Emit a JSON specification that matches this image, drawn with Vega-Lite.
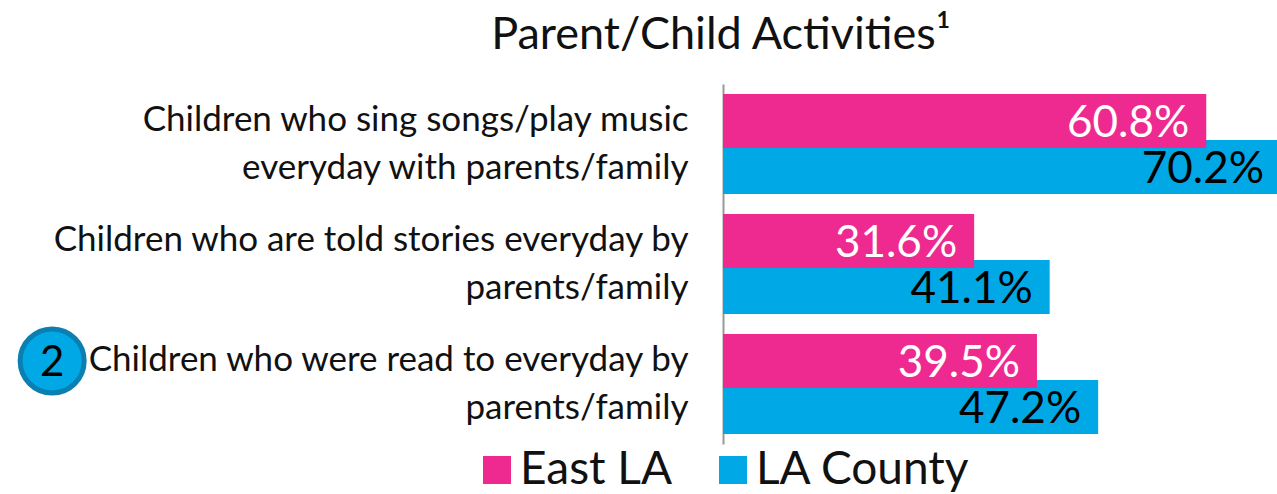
{
"$schema":"https://vega.github.io/schema/vega-lite/v6.json",
"width":554,"height":360,
"autosize":{"type":"none"},
"padding":{"left":723,"top":84,"right":0,"bottom":50},
"background":"white",
"title":{"text":"Parent/Child Activities¹","font":"Lato","fontSize":45,"fontWeight":"normal","color":"#111111","anchor":"middle","dx":-279,"offset":26},
"config":{"view":{"stroke":null},"font":"Lato"},
"data":{"values":[
{"category":"Children who sing songs/play music|everyday with parents/family","series":"LA County","value":70.2},
{"category":"Children who are told stories everyday by|parents/family","series":"LA County","value":41.1},
{"category":"Children who were read to everyday by|parents/family","series":"LA County","value":47.2},
{"category":"Children who sing songs/play music|everyday with parents/family","series":"East LA","value":60.8},
{"category":"Children who are told stories everyday by|parents/family","series":"East LA","value":31.6},
{"category":"Children who were read to everyday by|parents/family","series":"East LA","value":39.5}
]},
"encoding":{
"y":{"field":"category","type":"nominal","sort":null,"title":null,
"scale":{"domain":["Children who sing songs/play music|everyday with parents/family","Children who are told stories everyday by|parents/family","Children who were read to everyday by|parents/family"],"paddingInner":0,"paddingOuter":0},
"axis":{"labelExpr":"split(datum.value,'|')","labelFont":"Lato","labelFontSize":35,"labelColor":"#111111","labelLimit":700,"labelPadding":35,"labelLineHeight":48,"labelOffset":-24,"ticks":false,"domainColor":"#999999","domainWidth":2,"grid":false}},
"yOffset":{"field":"series","type":"nominal","scale":{"domain":["East LA","LA County"],"paddingInner":0,"paddingOuter":0.304}}
},
"layer":[
{"mark":{"type":"bar","size":54,"clip":true},
"encoding":{
"x":{"field":"value","type":"quantitative","title":null,"axis":null,"scale":{"domain":[0,69.7],"nice":false,"zero":false}},
"color":{"field":"series","type":"nominal","scale":{"domain":["East LA","LA County"],"range":["#EE2A91","#00A8E6"]},
"legend":{"title":null,"orient":"none","legendX":-249,"legendY":363,"direction":"horizontal","symbolType":"square","symbolSize":784,"symbolStrokeWidth":0,"labelFont":"Lato","labelFontSize":46,"labelColor":"#111111","labelLimit":400,"columnPadding":37,"labelOffset":0}}
}},
{"transform":[{"calculate":"format(datum.value,'.1f')+'%'","as":"valueLabel"}],
"mark":{"type":"text","align":"right","baseline":"middle","dx":-17,"dy":3,"font":"Lato","fontSize":44},
"encoding":{
"x":{"field":"value","type":"quantitative"},
"text":{"field":"valueLabel","type":"nominal"},
"color":{"condition":{"test":"datum.series==='East LA'","value":"white"},"value":"black"}
}},
{"data":{"values":[{"category":"Children who were read to everyday by|parents/family","series":"East LA","position":-84.4,"badge":"2"}]},
"mark":{"type":"point","filled":true,"shape":"circle","size":4100,"fill":"#00A8E6","stroke":"#0A7FB0","strokeWidth":5,"opacity":1},
"encoding":{"x":{"field":"position","type":"quantitative"}}},
{"data":{"values":[{"category":"Children who were read to everyday by|parents/family","series":"East LA","position":-84.4,"badge":"2"}]},
"mark":{"type":"text","font":"Lato","fontSize":42,"color":"black","align":"center","baseline":"middle","dy":2},
"encoding":{"x":{"field":"position","type":"quantitative"},"text":{"field":"badge","type":"nominal"}}}
]
}
